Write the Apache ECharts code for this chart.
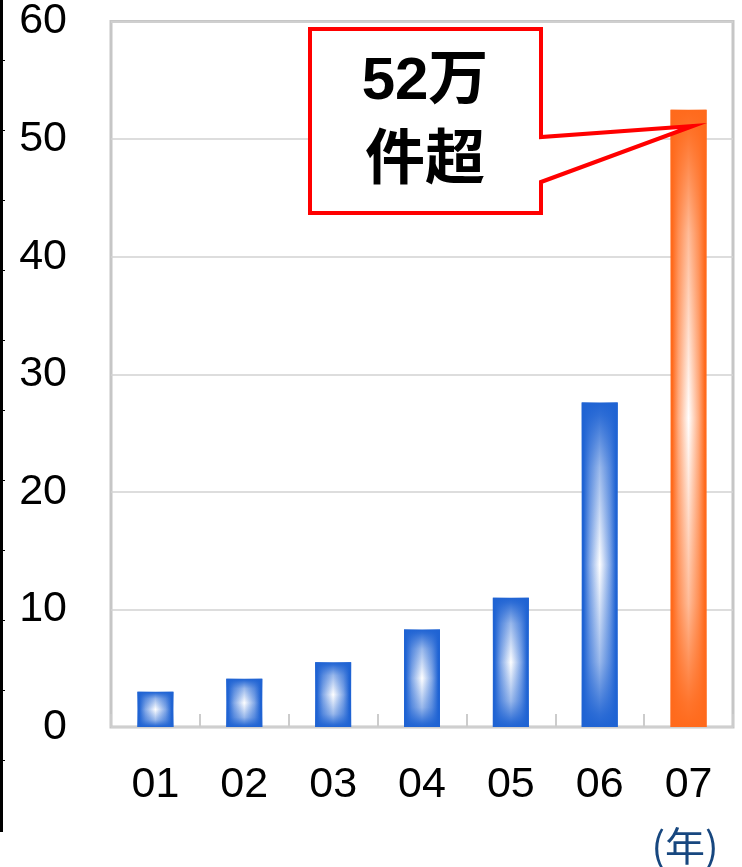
<!DOCTYPE html>
<html>
<head>
<meta charset="utf-8">
<script src="https://cdn.jsdelivr.net/npm/echarts@6/dist/echarts.min.js"></script>
<style>
html,body{margin:0;padding:0;background:#fff;}
#c{width:742px;height:867px;}
</style>
</head>
<body>
<div id="c"></div>
<script>
const categories = ['01', '02', '03', '04', '05', '06', '07'];
const values = [3.0, 4.1, 5.5, 8.3, 11.0, 27.6, 52.5];
const highlightCategory = '07';
const yTicks = { min: 0, max: 60, interval: 10 };
const calloutText = '52万\n件超';
const unitText = '(年)';

const BLUE = '#1f63d3';
const ORANGE = '#ff6a1c';

function mix(c, a) {
  return echarts.color.lerp(a, ['#ffffff', c]);
}
function hGrad(c) {
  return new echarts.graphic.LinearGradient(0, 0, 1, 0, [
    { offset: 0, color: c },
    { offset: 0.05, color: c },
    { offset: 0.22, color: mix(c, 0.55) },
    { offset: 0.5, color: '#ffffff' },
    { offset: 0.78, color: mix(c, 0.55) },
    { offset: 0.95, color: c },
    { offset: 1, color: c }
  ]);
}
function vGrad(c) {
  const a = (v) => echarts.color.modifyAlpha(c, v);
  return new echarts.graphic.LinearGradient(0, 0, 0, 1, [
    { offset: 0, color: a(1) },
    { offset: 0.04, color: a(0.92) },
    { offset: 0.2, color: a(0.45) },
    { offset: 0.5, color: a(0) },
    { offset: 0.8, color: a(0.45) },
    { offset: 0.96, color: a(0.92) },
    { offset: 1, color: a(1) }
  ]);
}

const baseData = categories.map((cat, i) => ({
  value: values[i],
  itemStyle: { color: hGrad(cat === highlightCategory ? ORANGE : BLUE) }
}));
const overlayData = categories.map((cat, i) => ({
  value: values[i],
  itemStyle: { color: vGrad(cat === highlightCategory ? ORANGE : BLUE) }
}));

const chart = echarts.init(document.getElementById('c'));
const labelFont = 'Liberation Sans, Arial, sans-serif';

// left black edge line with small ticks
const edge = [{ type: 'rect', shape: { x: 0, y: 0, width: 3, height: 832 }, style: { fill: '#000' } }];
for (let y = 60; y <= 760; y += 70) {
  edge.push({ type: 'rect', shape: { x: 3, y: y, width: 2, height: 1 }, style: { fill: '#000' } });
}

chart.setOption({
  animation: false,
  grid: {
    left: 111, right: 9, top: 18, bottom: 140,
    show: true, borderColor: '#c6c6c6', borderWidth: 3, backgroundColor: 'transparent'
  },
  xAxis: {
    type: 'category',
    data: categories,
    axisLine: { show: false },
    axisTick: { show: true, inside: true, length: 13, lineStyle: { color: '#cccccc', width: 2 } },
    axisLabel: { fontSize: 43, color: '#000', fontFamily: labelFont, margin: 37 }
  },
  yAxis: {
    type: 'value',
    min: yTicks.min, max: yTicks.max, interval: yTicks.interval,
    axisLine: { show: false },
    axisTick: { show: false },
    splitLine: { lineStyle: { color: '#d2d2d2', width: 1.5 } },
    axisLabel: { fontSize: 43, color: '#000', fontFamily: labelFont, margin: 44 }
  },
  series: [
    { type: 'bar', name: 'base', data: baseData, barWidth: 36, z: 2 },
    { type: 'bar', name: 'overlay', data: overlayData, barWidth: 36, barGap: '-100%', z: 3, silent: true }
  ],
  graphic: edge.concat([
    {
      type: 'polygon',
      z: 10,
      shape: { points: [[310, 29], [541, 29], [541, 137], [693, 126], [541, 182], [541, 213], [310, 213]] },
      style: { fill: '#fff', stroke: '#ff0000', lineWidth: 4, lineJoin: 'miter' }
    },
    {
      type: 'text',
      z: 11,
      x: 425, y: 122,
      style: {
        text: calloutText,
        fontSize: 60, fontWeight: 'bold', lineHeight: 80,
        fontFamily: 'Liberation Sans, Noto Sans CJK JP, sans-serif',
        fill: '#000', align: 'center', verticalAlign: 'middle'
      }
    },
    {
      type: 'text',
      x: 685, y: 846,
      style: {
        text: unitText, fontSize: 40, fill: '#17477f',
        fontFamily: 'Noto Sans CJK JP, sans-serif',
        align: 'center', verticalAlign: 'middle'
      }
    }
  ])
});
</script>
</body>
</html>
